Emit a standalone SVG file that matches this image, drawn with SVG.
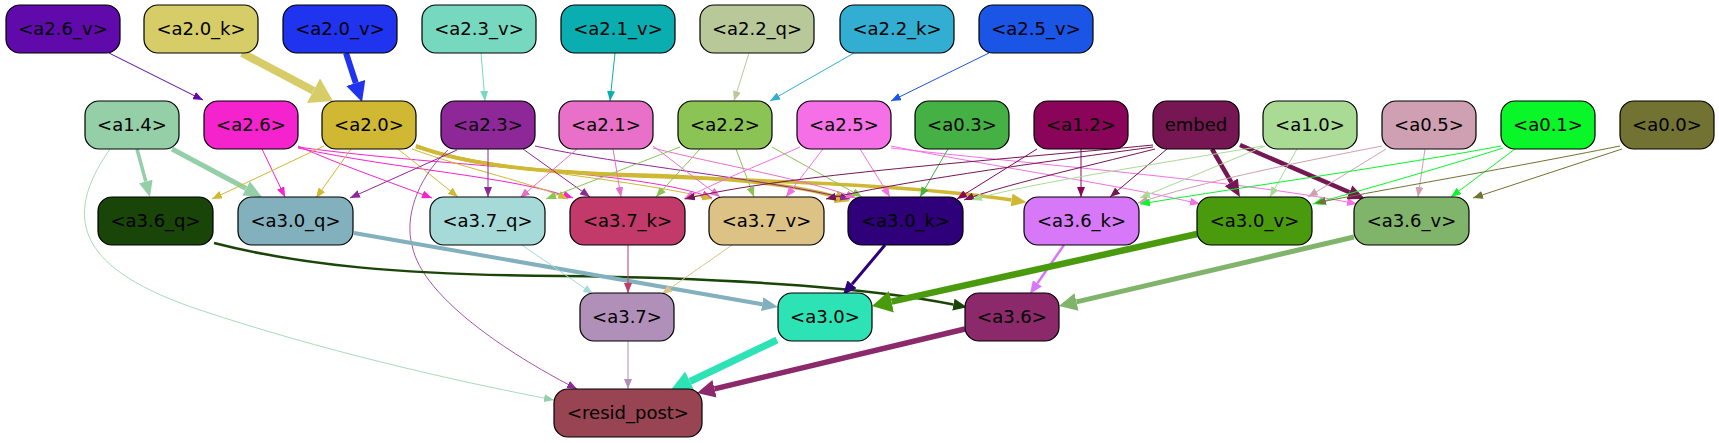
<svg xmlns="http://www.w3.org/2000/svg" width="1719" height="443" viewBox="0 0 1719 443">
<style>
.n rect{stroke:#000;stroke-width:1.2}
.n text{font-family:"DejaVu Sans","Liberation Sans",sans-serif;font-size:18px;text-anchor:middle;fill:#000}
.e path{fill:none}
</style>
<defs>
<marker id="m600aab" markerUnits="userSpaceOnUse" markerWidth="10" markerHeight="8" viewBox="0 0 10 8" refX="10" refY="4" orient="auto"><path d="M0,0L10,4L0,8z" fill="#600aab"/></marker>
<marker id="m76d9bf" markerUnits="userSpaceOnUse" markerWidth="10" markerHeight="8" viewBox="0 0 10 8" refX="10" refY="4" orient="auto"><path d="M0,0L10,4L0,8z" fill="#76d9bf"/></marker>
<marker id="m0aaeb0" markerUnits="userSpaceOnUse" markerWidth="10" markerHeight="8" viewBox="0 0 10 8" refX="10" refY="4" orient="auto"><path d="M0,0L10,4L0,8z" fill="#0aaeb0"/></marker>
<marker id="mb9c898" markerUnits="userSpaceOnUse" markerWidth="10" markerHeight="8" viewBox="0 0 10 8" refX="10" refY="4" orient="auto"><path d="M0,0L10,4L0,8z" fill="#b9c898"/></marker>
<marker id="m33aed3" markerUnits="userSpaceOnUse" markerWidth="10" markerHeight="8" viewBox="0 0 10 8" refX="10" refY="4" orient="auto"><path d="M0,0L10,4L0,8z" fill="#33aed3"/></marker>
<marker id="m1a55e6" markerUnits="userSpaceOnUse" markerWidth="10" markerHeight="8" viewBox="0 0 10 8" refX="10" refY="4" orient="auto"><path d="M0,0L10,4L0,8z" fill="#1a55e6"/></marker>
<marker id="m94cfa8" markerUnits="userSpaceOnUse" markerWidth="10" markerHeight="8" viewBox="0 0 10 8" refX="10" refY="4" orient="auto"><path d="M0,0L10,4L0,8z" fill="#94cfa8"/></marker>
<marker id="mf523ce" markerUnits="userSpaceOnUse" markerWidth="10" markerHeight="8" viewBox="0 0 10 8" refX="10" refY="4" orient="auto"><path d="M0,0L10,4L0,8z" fill="#f523ce"/></marker>
<marker id="md0b832" markerUnits="userSpaceOnUse" markerWidth="10" markerHeight="8" viewBox="0 0 10 8" refX="10" refY="4" orient="auto"><path d="M0,0L10,4L0,8z" fill="#d0b832"/></marker>
<marker id="m8e2798" markerUnits="userSpaceOnUse" markerWidth="10" markerHeight="8" viewBox="0 0 10 8" refX="10" refY="4" orient="auto"><path d="M0,0L10,4L0,8z" fill="#8e2798"/></marker>
<marker id="me870c8" markerUnits="userSpaceOnUse" markerWidth="10" markerHeight="8" viewBox="0 0 10 8" refX="10" refY="4" orient="auto"><path d="M0,0L10,4L0,8z" fill="#e870c8"/></marker>
<marker id="m8bc355" markerUnits="userSpaceOnUse" markerWidth="10" markerHeight="8" viewBox="0 0 10 8" refX="10" refY="4" orient="auto"><path d="M0,0L10,4L0,8z" fill="#8bc355"/></marker>
<marker id="mf570e6" markerUnits="userSpaceOnUse" markerWidth="10" markerHeight="8" viewBox="0 0 10 8" refX="10" refY="4" orient="auto"><path d="M0,0L10,4L0,8z" fill="#f570e6"/></marker>
<marker id="m45b043" markerUnits="userSpaceOnUse" markerWidth="10" markerHeight="8" viewBox="0 0 10 8" refX="10" refY="4" orient="auto"><path d="M0,0L10,4L0,8z" fill="#45b043"/></marker>
<marker id="m8a0559" markerUnits="userSpaceOnUse" markerWidth="10" markerHeight="8" viewBox="0 0 10 8" refX="10" refY="4" orient="auto"><path d="M0,0L10,4L0,8z" fill="#8a0559"/></marker>
<marker id="m761652" markerUnits="userSpaceOnUse" markerWidth="10" markerHeight="8" viewBox="0 0 10 8" refX="10" refY="4" orient="auto"><path d="M0,0L10,4L0,8z" fill="#761652"/></marker>
<marker id="ma9db94" markerUnits="userSpaceOnUse" markerWidth="10" markerHeight="8" viewBox="0 0 10 8" refX="10" refY="4" orient="auto"><path d="M0,0L10,4L0,8z" fill="#a9db94"/></marker>
<marker id="mcfa0b2" markerUnits="userSpaceOnUse" markerWidth="10" markerHeight="8" viewBox="0 0 10 8" refX="10" refY="4" orient="auto"><path d="M0,0L10,4L0,8z" fill="#cfa0b2"/></marker>
<marker id="m09f628" markerUnits="userSpaceOnUse" markerWidth="10" markerHeight="8" viewBox="0 0 10 8" refX="10" refY="4" orient="auto"><path d="M0,0L10,4L0,8z" fill="#09f628"/></marker>
<marker id="m727233" markerUnits="userSpaceOnUse" markerWidth="10" markerHeight="8" viewBox="0 0 10 8" refX="10" refY="4" orient="auto"><path d="M0,0L10,4L0,8z" fill="#727233"/></marker>
<marker id="ma5dad8" markerUnits="userSpaceOnUse" markerWidth="10" markerHeight="8" viewBox="0 0 10 8" refX="10" refY="4" orient="auto"><path d="M0,0L10,4L0,8z" fill="#a5dad8"/></marker>
<marker id="mc23a69" markerUnits="userSpaceOnUse" markerWidth="10" markerHeight="8" viewBox="0 0 10 8" refX="10" refY="4" orient="auto"><path d="M0,0L10,4L0,8z" fill="#c23a69"/></marker>
<marker id="mdcc285" markerUnits="userSpaceOnUse" markerWidth="10" markerHeight="8" viewBox="0 0 10 8" refX="10" refY="4" orient="auto"><path d="M0,0L10,4L0,8z" fill="#dcc285"/></marker>
<marker id="mb08fb8" markerUnits="userSpaceOnUse" markerWidth="10" markerHeight="8" viewBox="0 0 10 8" refX="10" refY="4" orient="auto"><path d="M0,0L10,4L0,8z" fill="#b08fb8"/></marker>
<marker id="k1" markerUnits="userSpaceOnUse" markerWidth="22" markerHeight="28" viewBox="0 0 22 28" refX="0" refY="14" orient="auto"><path d="M0,0L22,14L0,28z" fill="#d7cd68"/></marker>
<marker id="k2" markerUnits="userSpaceOnUse" markerWidth="20" markerHeight="20" viewBox="0 0 20 20" refX="0" refY="10" orient="auto"><path d="M0,0L20,10L0,20z" fill="#2034ef"/></marker>
<marker id="k3" markerUnits="userSpaceOnUse" markerWidth="16" markerHeight="14" viewBox="0 0 16 14" refX="0" refY="7" orient="auto"><path d="M0,0L16,7L0,14z" fill="#94cfa8"/></marker>
<marker id="k4" markerUnits="userSpaceOnUse" markerWidth="18" markerHeight="16" viewBox="0 0 18 16" refX="0" refY="8" orient="auto"><path d="M0,0L18,8L0,16z" fill="#94cfa8"/></marker>
<marker id="k5" markerUnits="userSpaceOnUse" markerWidth="15" markerHeight="13" viewBox="0 0 15 13" refX="0" refY="6.5" orient="auto"><path d="M0,0L15,6.5L0,13z" fill="#d0b832"/></marker>
<marker id="k7" markerUnits="userSpaceOnUse" markerWidth="17" markerHeight="15" viewBox="0 0 17 15" refX="0" refY="7.5" orient="auto"><path d="M0,0L17,7.5L0,15z" fill="#761652"/></marker>
<marker id="k9" markerUnits="userSpaceOnUse" markerWidth="14" markerHeight="12" viewBox="0 0 14 12" refX="0" refY="6" orient="auto"><path d="M0,0L14,6L0,12z" fill="#1a4508"/></marker>
<marker id="k10" markerUnits="userSpaceOnUse" markerWidth="16" markerHeight="14" viewBox="0 0 16 14" refX="0" refY="7" orient="auto"><path d="M0,0L16,7L0,14z" fill="#82b0bd"/></marker>
<marker id="k11" markerUnits="userSpaceOnUse" markerWidth="14" markerHeight="12" viewBox="0 0 14 12" refX="0" refY="6" orient="auto"><path d="M0,0L14,6L0,12z" fill="#2e0079"/></marker>
<marker id="k12" markerUnits="userSpaceOnUse" markerWidth="13" markerHeight="11" viewBox="0 0 13 11" refX="0" refY="5.5" orient="auto"><path d="M0,0L13,5.5L0,11z" fill="#d678f7"/></marker>
<marker id="k13" markerUnits="userSpaceOnUse" markerWidth="20" markerHeight="22" viewBox="0 0 20 22" refX="0" refY="11" orient="auto"><path d="M0,0L20,11L0,22z" fill="#4a9a0d"/></marker>
<marker id="k14" markerUnits="userSpaceOnUse" markerWidth="18" markerHeight="18" viewBox="0 0 18 18" refX="0" refY="9" orient="auto"><path d="M0,0L18,9L0,18z" fill="#80b46a"/></marker>
<marker id="k15" markerUnits="userSpaceOnUse" markerWidth="22" markerHeight="22" viewBox="0 0 22 22" refX="0" refY="11" orient="auto"><path d="M0,0L22,11L0,22z" fill="#2de3b5"/></marker>
<marker id="k16" markerUnits="userSpaceOnUse" markerWidth="18" markerHeight="18" viewBox="0 0 18 18" refX="0" refY="9" orient="auto"><path d="M0,0L18,9L0,18z" fill="#8b296b"/></marker>
</defs>
<rect width="1719" height="443" fill="#ffffff"/>
<g id="connectors" class="e" stroke-width="1">
<path d="M109,53 L203,100" stroke="#600aab" marker-end="url(#m600aab)"/>
<path d="M242,53 L313.5,90.7" stroke="#d7cd68" stroke-width="8" marker-end="url(#k1)"/>
<path d="M346,53 L355.8,83" stroke="#2034ef" stroke-width="6" marker-end="url(#k2)"/>
<path d="M481,53 L485,101" stroke="#76d9bf" marker-end="url(#m76d9bf)"/>
<path d="M615,53 L610,101" stroke="#0aaeb0" marker-end="url(#m0aaeb0)"/>
<path d="M749,53 L734,101" stroke="#b9c898" marker-end="url(#mb9c898)"/>
<path d="M854,53 L770,101" stroke="#33aed3" marker-end="url(#m33aed3)"/>
<path d="M989,53 L891,101" stroke="#1a55e6" marker-end="url(#m1a55e6)"/>
<path d="M137,149 L145.8,181.5" stroke="#94cfa8" stroke-width="3.5" marker-end="url(#k3)"/>
<path d="M172,149 L246.1,188.5" stroke="#94cfa8" stroke-width="5" marker-end="url(#k4)"/>
<path d="M110,149 C60,220 80,270 200,310 C320,350 450,380 554,400" stroke="#94cfa8" stroke-width="0.8" marker-end="url(#m94cfa8)"/>
<path d="M262,149 L285,197" stroke="#f523ce" marker-end="url(#mf523ce)"/>
<path d="M298,146 C340,165 390,182 432,198" stroke="#f523ce" marker-end="url(#mf523ce)"/>
<path d="M298,148 C400,170 510,176 573,198" stroke="#f523ce" marker-end="url(#mf523ce)"/>
<path d="M298,147 C450,168 640,170 712,198" stroke="#f523ce" marker-end="url(#mf523ce)"/>
<path d="M324,146 L212,199" stroke="#d0b832" marker-end="url(#md0b832)"/>
<path d="M351,149 L316,198" stroke="#d0b832" marker-end="url(#md0b832)"/>
<path d="M398,149 L458,197" stroke="#d0b832" marker-end="url(#md0b832)"/>
<path d="M412,149 C470,170 530,182 568,199" stroke="#d0b832" marker-end="url(#md0b832)"/>
<path d="M416,148 C500,170 640,180 712,199" stroke="#d0b832" marker-end="url(#md0b832)"/>
<path d="M416,146 C470,166 540,172 640,175 C740,178 800,186 835.6,196.8" stroke="#d0b832" stroke-width="3.5" marker-end="url(#k5)"/>
<path d="M416,146 C470,166 540,172 640,176 C800,182 920,186 1011.6,200" stroke="#d0b832" stroke-width="3.5" marker-end="url(#k5)"/>
<path d="M457,150 L350,198" stroke="#8e2798" marker-end="url(#m8e2798)"/>
<path d="M488,149 L488,197" stroke="#8e2798" marker-end="url(#m8e2798)"/>
<path d="M523,149 L590,197" stroke="#8e2798" marker-end="url(#m8e2798)"/>
<path d="M535,146 C620,165 760,178 850,199" stroke="#8e2798" marker-end="url(#m8e2798)"/>
<path d="M448,150 C415,180 405,220 412,245 C422,300 520,360 577,389" stroke="#8e2798" stroke-width="0.8" marker-end="url(#m8e2798)"/>
<path d="M577,149 L520,198" stroke="#e870c8" marker-end="url(#me870c8)"/>
<path d="M613,149 L621,197" stroke="#e870c8" marker-end="url(#me870c8)"/>
<path d="M653,146 L720,197" stroke="#e870c8" marker-end="url(#me870c8)"/>
<path d="M653,148 C720,165 810,180 856,198" stroke="#e870c8" marker-end="url(#me870c8)"/>
<path d="M680,147 L546,199" stroke="#8bc355" marker-end="url(#m8bc355)"/>
<path d="M700,149 L656,197" stroke="#8bc355" marker-end="url(#m8bc355)"/>
<path d="M736,149 L754,197" stroke="#8bc355" marker-end="url(#m8bc355)"/>
<path d="M772,147 L862,197" stroke="#8bc355" marker-end="url(#m8bc355)"/>
<path d="M800,147 C760,165 720,180 684,199" stroke="#f570e6" marker-end="url(#mf570e6)"/>
<path d="M823,149 L786,197" stroke="#f570e6" marker-end="url(#mf570e6)"/>
<path d="M860,149 L890,197" stroke="#f570e6" marker-end="url(#mf570e6)"/>
<path d="M891,146 C1000,168 1120,185 1200,204" stroke="#f570e6" marker-end="url(#mf570e6)"/>
<path d="M891,148 C1050,166 1250,182 1357,204" stroke="#f570e6" marker-end="url(#mf570e6)"/>
<path d="M948,149 L920,197" stroke="#45b043" marker-end="url(#m45b043)"/>
<path d="M1081,149 L1081,197" stroke="#8a0559" marker-end="url(#m8a0559)"/>
<path d="M1037,149 L957,199" stroke="#8a0559" marker-end="url(#m8a0559)"/>
<path d="M1153,145 C1000,160 780,175 685,199" stroke="#761652" marker-end="url(#m761652)"/>
<path d="M1153,147 C1020,165 900,182 826,199" stroke="#761652" marker-end="url(#m761652)"/>
<path d="M1155,149 C1080,168 1000,186 964,200" stroke="#761652" marker-end="url(#m761652)"/>
<path d="M1167,149 L1110,197" stroke="#761652" marker-end="url(#m761652)"/>
<path d="M1212,149 L1231.4,182.3" stroke="#761652" stroke-width="4.5" marker-end="url(#k7)"/>
<path d="M1240,145 L1349.4,192.3" stroke="#761652" stroke-width="4.5" marker-end="url(#k7)"/>
<path d="M1263,146 C1150,165 1020,185 972,200" stroke="#a9db94" marker-end="url(#ma9db94)"/>
<path d="M1265,146 L1140,198" stroke="#a9db94" marker-end="url(#ma9db94)"/>
<path d="M1297,149 L1270,197" stroke="#a9db94" marker-end="url(#ma9db94)"/>
<path d="M1382,146 C1300,162 1200,182 1138,203" stroke="#cfa0b2" marker-end="url(#mcfa0b2)"/>
<path d="M1386,149 L1308,197" stroke="#cfa0b2" marker-end="url(#mcfa0b2)"/>
<path d="M1425,149 L1418,197" stroke="#cfa0b2" marker-end="url(#mcfa0b2)"/>
<path d="M1501,146 C1400,165 1250,186 1140,204" stroke="#09f628" marker-end="url(#m09f628)"/>
<path d="M1503,148 C1450,165 1380,185 1313,204" stroke="#09f628" marker-end="url(#m09f628)"/>
<path d="M1515,149 L1451,197" stroke="#09f628" marker-end="url(#m09f628)"/>
<path d="M1620,146 C1500,170 1380,190 1316,203" stroke="#727233" marker-end="url(#m727233)"/>
<path d="M1622,149 L1473,198" stroke="#727233" marker-end="url(#m727233)"/>
<path d="M214,243 C300,265 400,275 560,276 C750,278 880,290 953.4,304.6" stroke="#1a4508" stroke-width="2.5" marker-end="url(#k9)"/>
<path d="M354,233 L762.2,304.2" stroke="#82b0bd" stroke-width="4" marker-end="url(#k10)"/>
<path d="M522,245 L593,294" stroke="#a5dad8" marker-end="url(#ma5dad8)"/>
<path d="M628,245 L628,293" stroke="#c23a69" marker-end="url(#mc23a69)"/>
<path d="M732,245 L662,294" stroke="#dcc285" marker-end="url(#mdcc285)"/>
<path d="M885,245 L852,284.3" stroke="#2e0079" stroke-width="3" marker-end="url(#k11)"/>
<path d="M1064,245 L1037.4,283.3" stroke="#d678f7" stroke-width="2.5" marker-end="url(#k12)"/>
<path d="M1197,234 L891.5,301.7" stroke="#4a9a0d" stroke-width="6.5" marker-end="url(#k13)"/>
<path d="M1354,237 L1076.5,301.9" stroke="#80b46a" stroke-width="5" marker-end="url(#k14)"/>
<path d="M628,341 L628,389" stroke="#b08fb8" marker-end="url(#mb08fb8)"/>
<path d="M777,340 L689.9,381.5" stroke="#2de3b5" stroke-width="7" marker-end="url(#k15)"/>
<path d="M965,329 L714.5,388.8" stroke="#8b296b" stroke-width="5.5" marker-end="url(#k16)"/>
</g>
<g id="a2.6_v" class="n"><rect x="6" y="5" width="114" height="48" rx="14" fill="#600aab"/><text x="63" y="35">&lt;a2.6_v&gt;</text></g>
<g id="a2.0_k" class="n"><rect x="144" y="5" width="114" height="48" rx="14" fill="#d7cd68"/><text x="201" y="35">&lt;a2.0_k&gt;</text></g>
<g id="a2.0_v" class="n"><rect x="283" y="5" width="114" height="48" rx="14" fill="#2034ef"/><text x="340" y="35">&lt;a2.0_v&gt;</text></g>
<g id="a2.3_v" class="n"><rect x="422" y="5" width="114" height="48" rx="14" fill="#76d9bf"/><text x="479" y="35">&lt;a2.3_v&gt;</text></g>
<g id="a2.1_v" class="n"><rect x="561" y="5" width="114" height="48" rx="14" fill="#0aaeb0"/><text x="618" y="35">&lt;a2.1_v&gt;</text></g>
<g id="a2.2_q" class="n"><rect x="700" y="5" width="114" height="48" rx="14" fill="#b9c898"/><text x="757" y="35">&lt;a2.2_q&gt;</text></g>
<g id="a2.2_k" class="n"><rect x="840" y="5" width="114" height="48" rx="14" fill="#33aed3"/><text x="897" y="35">&lt;a2.2_k&gt;</text></g>
<g id="a2.5_v" class="n"><rect x="979" y="5" width="114" height="48" rx="14" fill="#1a55e6"/><text x="1036" y="35">&lt;a2.5_v&gt;</text></g>
<g id="a1.4" class="n"><rect x="85" y="101" width="94" height="48" rx="14" fill="#94cfa8"/><text x="132" y="131">&lt;a1.4&gt;</text></g>
<g id="a2.6" class="n"><rect x="204" y="101" width="94" height="48" rx="14" fill="#f523ce"/><text x="251" y="131">&lt;a2.6&gt;</text></g>
<g id="a2.0" class="n"><rect x="322" y="101" width="94" height="48" rx="14" fill="#d0b832"/><text x="369" y="131">&lt;a2.0&gt;</text></g>
<g id="a2.3" class="n"><rect x="441" y="101" width="94" height="48" rx="14" fill="#8e2798"/><text x="488" y="131">&lt;a2.3&gt;</text></g>
<g id="a2.1" class="n"><rect x="559" y="101" width="94" height="48" rx="14" fill="#e870c8"/><text x="606" y="131">&lt;a2.1&gt;</text></g>
<g id="a2.2" class="n"><rect x="678" y="101" width="94" height="48" rx="14" fill="#8bc355"/><text x="725" y="131">&lt;a2.2&gt;</text></g>
<g id="a2.5" class="n"><rect x="797" y="101" width="94" height="48" rx="14" fill="#f570e6"/><text x="844" y="131">&lt;a2.5&gt;</text></g>
<g id="a0.3" class="n"><rect x="915" y="101" width="94" height="48" rx="14" fill="#45b043"/><text x="962" y="131">&lt;a0.3&gt;</text></g>
<g id="a1.2" class="n"><rect x="1034" y="101" width="94" height="48" rx="14" fill="#8a0559"/><text x="1081" y="131">&lt;a1.2&gt;</text></g>
<g id="embed" class="n"><rect x="1153" y="101" width="86" height="48" rx="14" fill="#761652"/><text x="1196" y="131">embed</text></g>
<g id="a1.0" class="n"><rect x="1263" y="101" width="94" height="48" rx="14" fill="#a9db94"/><text x="1310" y="131">&lt;a1.0&gt;</text></g>
<g id="a0.5" class="n"><rect x="1382" y="101" width="94" height="48" rx="14" fill="#cfa0b2"/><text x="1429" y="131">&lt;a0.5&gt;</text></g>
<g id="a0.1" class="n"><rect x="1501" y="101" width="94" height="48" rx="14" fill="#09f628"/><text x="1548" y="131">&lt;a0.1&gt;</text></g>
<g id="a0.0" class="n"><rect x="1620" y="101" width="94" height="48" rx="14" fill="#727233"/><text x="1667" y="131">&lt;a0.0&gt;</text></g>
<g id="a3.6_q" class="n"><rect x="98" y="197" width="115" height="48" rx="14" fill="#1a4508"/><text x="155.5" y="227">&lt;a3.6_q&gt;</text></g>
<g id="a3.0_q" class="n"><rect x="238" y="197" width="115" height="48" rx="14" fill="#82b0bd"/><text x="295.5" y="227">&lt;a3.0_q&gt;</text></g>
<g id="a3.7_q" class="n"><rect x="430" y="197" width="115" height="48" rx="14" fill="#a5dad8"/><text x="487.5" y="227">&lt;a3.7_q&gt;</text></g>
<g id="a3.7_k" class="n"><rect x="570" y="197" width="115" height="48" rx="14" fill="#c23a69"/><text x="627.5" y="227">&lt;a3.7_k&gt;</text></g>
<g id="a3.7_v" class="n"><rect x="709" y="197" width="115" height="48" rx="14" fill="#dcc285"/><text x="766.5" y="227">&lt;a3.7_v&gt;</text></g>
<g id="a3.0_k" class="n"><rect x="848" y="197" width="115" height="48" rx="14" fill="#2e0079"/><text x="905.5" y="227">&lt;a3.0_k&gt;</text></g>
<g id="a3.6_k" class="n"><rect x="1024" y="197" width="115" height="48" rx="14" fill="#d678f7"/><text x="1081.5" y="227">&lt;a3.6_k&gt;</text></g>
<g id="a3.0_v" class="n"><rect x="1197" y="197" width="115" height="48" rx="14" fill="#4a9a0d"/><text x="1254.5" y="227">&lt;a3.0_v&gt;</text></g>
<g id="a3.6_v" class="n"><rect x="1354" y="197" width="115" height="48" rx="14" fill="#80b46a"/><text x="1411.5" y="227">&lt;a3.6_v&gt;</text></g>
<g id="a3.7" class="n"><rect x="580" y="293" width="94" height="48" rx="14" fill="#b08fb8"/><text x="627" y="323">&lt;a3.7&gt;</text></g>
<g id="a3.0" class="n"><rect x="778" y="293" width="94" height="48" rx="14" fill="#2de3b5"/><text x="825" y="323">&lt;a3.0&gt;</text></g>
<g id="a3.6" class="n"><rect x="965" y="293" width="94" height="48" rx="14" fill="#8b296b"/><text x="1012" y="323">&lt;a3.6&gt;</text></g>
<g id="resid_post" class="n"><rect x="554" y="389" width="148" height="48" rx="14" fill="#984452"/><text x="628" y="419">&lt;resid_post&gt;</text></g>
</svg>
